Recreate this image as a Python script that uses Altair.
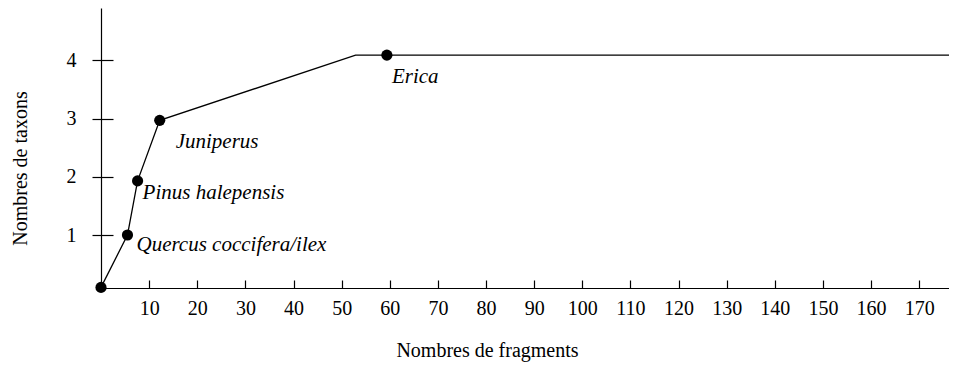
import altair as alt
import pandas as pd

# ---- data ----
line_x = [0, 5.5, 7.6, 12.2, 52.9, 176.2]
line_y = [0.1, 1.0, 1.93, 2.97, 4.09, 4.09]

pt_x = [0, 5.5, 7.6, 12.2, 59.4]
pt_y = [0.1, 1.0, 1.93, 2.97, 4.09]
pt_label = ["", "Quercus coccifera/ilex", "Pinus halepensis", "Juniperus", "Erica"]

x_ticks = list(range(10, 180, 10))
y_ticks = [1, 2, 3, 4]
x_domain = [0, 176.2]
y_domain = [0.09, 4.9]

FONT = "Liberation Serif"
FS = 20
FS_LABEL = 21

line_df = pd.DataFrame({"x": line_x, "y": line_y})
pt_df = pd.DataFrame({"x": pt_x, "y": pt_y, "label": pt_label})

xs = alt.Scale(domain=x_domain, nice=False, zero=False)
ys = alt.Scale(domain=y_domain, nice=False, zero=False)

main_x_axis = alt.Axis(
    values=x_ticks, ticks=False, tickSize=0, domain=True, domainColor="black",
    domainWidth=1.2, grid=False, labelFont=FONT, labelFontSize=FS, labelColor="black",
    labelPadding=10, labelOverlap=False, labelFlush=False,
    title="Nombres de fragments", titleFont=FONT, titleFontSize=FS,
    titleFontWeight="normal", titleColor="black", titleX=386, titleY=68,
    titleAlign="center", titleBaseline="alphabetic", orient="bottom",
)
main_y_axis = alt.Axis(
    values=y_ticks, ticks=True, tickSize=9, tickColor="black", tickWidth=1.2,
    domain=True, domainColor="black", domainWidth=1.2, grid=False,
    labelFont=FONT, labelFontSize=FS, labelColor="black", labelPadding=16,
    labelFlush=False, title="Nombres de taxons", titleFont=FONT, titleFontSize=FS,
    titleFontWeight="normal", titleColor="black", titleX=-81, titleY=160,
    titleAngle=270, titleAlign="center", titleBaseline="middle", orient="left",
)
inner_x_axis = alt.Axis(
    values=x_ticks, ticks=True, tickSize=8, tickColor="black", tickWidth=1.2,
    domain=False, labels=False, grid=False, title=None, offset=-8, orient="bottom",
)
inner_y_axis = alt.Axis(
    values=y_ticks, ticks=True, tickSize=12, tickColor="black", tickWidth=1.2,
    domain=False, labels=False, grid=False, title=None, offset=-12, orient="left",
)

line = alt.Chart(line_df).mark_line(color="black", strokeWidth=1.3).encode(
    x=alt.X("x:Q", scale=xs, axis=main_x_axis),
    y=alt.Y("y:Q", scale=ys, axis=main_y_axis),
)

ticks_layer = alt.Chart(line_df).mark_point(opacity=0).encode(
    x=alt.X("x:Q", scale=xs, axis=inner_x_axis),
    y=alt.Y("y:Q", scale=ys, axis=inner_y_axis),
)

points = alt.Chart(pt_df).mark_circle(color="black", size=125, opacity=1).encode(
    x=alt.X("x:Q", scale=xs, axis=None),
    y=alt.Y("y:Q", scale=ys, axis=None),
)

offsets = {
    "Quercus coccifera/ilex": (9, 10),
    "Pinus halepensis": (5, 12),
    "Juniperus": (16, 22),
    "Erica": (5, 22),
}

text_layers = []
for lab, (dx, dy) in offsets.items():
    text_layers.append(
        alt.Chart(pt_df).transform_filter(alt.datum.label == lab).mark_text(
            font=FONT, fontSize=FS_LABEL, fontStyle="italic", color="black",
            align="left", baseline="middle", dx=dx, dy=dy,
        ).encode(
            x=alt.X("x:Q", scale=xs, axis=None),
            y=alt.Y("y:Q", scale=ys, axis=None),
            text="label:N",
        )
    )

chart = alt.layer(line, ticks_layer, points, *text_layers).resolve_axis(
    x="independent", y="independent"
).properties(
    width=848, height=280,
    autosize=alt.AutoSizeParams(type="none"),
    padding={"left": 93, "top": 0, "right": 0, "bottom": 84},
    background="white",
).configure_view(stroke=None)

chart.save("out.html", embed_options={"renderer": "svg", "actions": False})
